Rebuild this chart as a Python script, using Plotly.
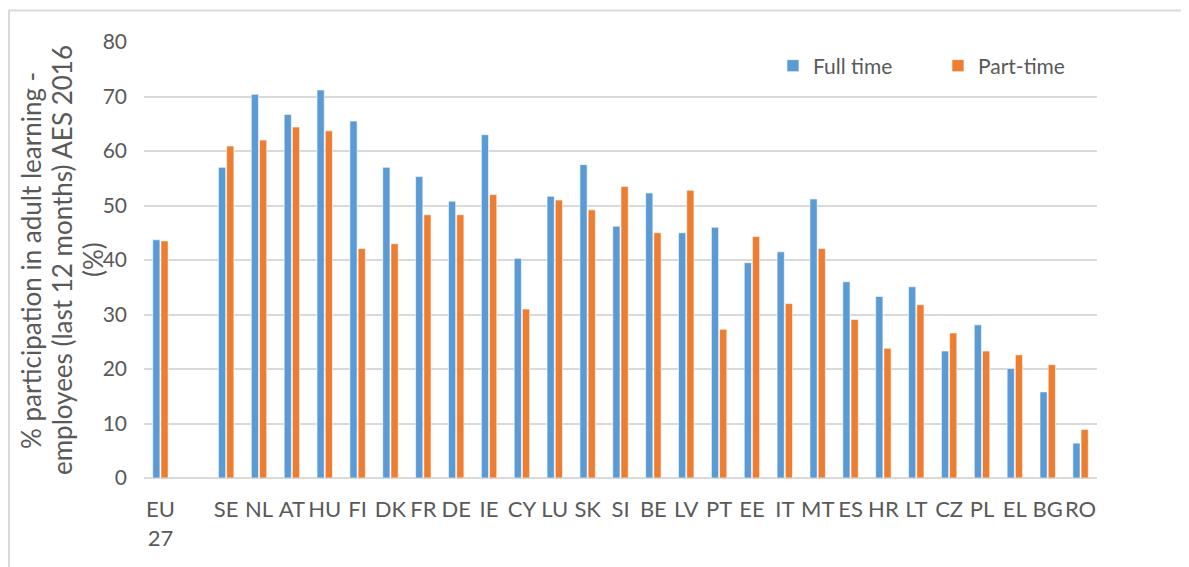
import plotly.graph_objects as go

countries = ["EU<br>27", " ", "SE", "NL", "AT", "HU", "FI", "DK", "FR", "DE", "IE", "CY", "LU",
             "SK", "SI", "BE", "LV", "PT", "EE", "IT", "MT", "ES", "HR", "LT", "CZ", "PL",
             "EL", "BG", "RO"]
full_time = [43.7, None, 57.0, 70.4, 66.7, 71.2, 65.5, 57.0, 55.3, 50.8, 63.0, 40.3, 51.7,
             57.5, 46.2, 52.3, 45.0, 46.0, 39.5, 41.5, 51.2, 36.0, 33.3, 35.1, 23.3, 28.1,
             20.1, 15.8, 6.4]
part_time = [43.5, None, 60.9, 62.0, 64.4, 63.7, 42.1, 43.0, 48.3, 48.3, 52.0, 31.0, 51.0,
             49.2, 53.5, 45.0, 52.8, 27.3, 44.3, 32.0, 42.1, 29.1, 23.8, 31.8, 26.6, 23.3,
             22.6, 20.8, 8.9]
y_ticks = [0, 10, 20, 30, 40, 50, 60, 70, 80]
title_lines = ["% participation in adult learning -",
               "employees (last 12 months) AES 2016",
               "(%)"]

grey = "#595959"
font_family = "Lato"

fig = go.Figure()
fig.add_trace(go.Bar(x=countries, y=full_time, name="Full time",
                     marker=dict(color="#5B9BD5", line=dict(color="#ffffff", width=0.6))))
fig.add_trace(go.Bar(x=countries, y=part_time, name="Part-time",
                     marker=dict(color="#ED7D31", line=dict(color="#ffffff", width=0.6))))

# y-axis title as three separate lines so the spacing can be set
title_x = [-0.1186, -0.086, -0.0535]
annots = []
for txt, xp in zip(title_lines, title_x):
    annots.append(dict(text=txt, xref="paper", yref="paper", x=xp, y=0.5,
                       xanchor="center", yanchor="middle", textangle=-90,
                       showarrow=False, font=dict(size=26, color=grey)))

fig.update_layout(
    width=1181, height=559,
    margin=dict(l=136, r=92, t=33.5, b=89),
    paper_bgcolor="white", plot_bgcolor="white",
    font=dict(family=font_family, color=grey, size=20),
    barmode="group", bargap=0.5, bargroupgap=0.12,
    showlegend=True,
    legend=dict(orientation="h", x=0.66, y=0.945, xanchor="left", yanchor="middle",
                font=dict(size=21, color=grey), entrywidth=120, bgcolor="rgba(0,0,0,0)"),
    xaxis=dict(type="category", showgrid=False, showline=False, ticks="",
               tickfont=dict(size=22, color=grey), ticklabelstandoff=16, tickangle=0),
    yaxis=dict(range=[0, 80], tickvals=y_ticks, showgrid=True, gridcolor="#d9d9d9",
               gridwidth=2, zeroline=True, zerolinecolor="#d9d9d9", zerolinewidth=2,
               showline=False, ticks="", tickfont=dict(size=21, color=grey),
               ticklabelstandoff=16),
    annotations=annots,
    shapes=[dict(type="rect", xref="paper", yref="paper", x0=-0.1417, x1=1.2,
                 y0=-0.3, y1=1.072, line=dict(color="#d9d9d9", width=2), layer="below")],
)

fig.write_html("out.html")
